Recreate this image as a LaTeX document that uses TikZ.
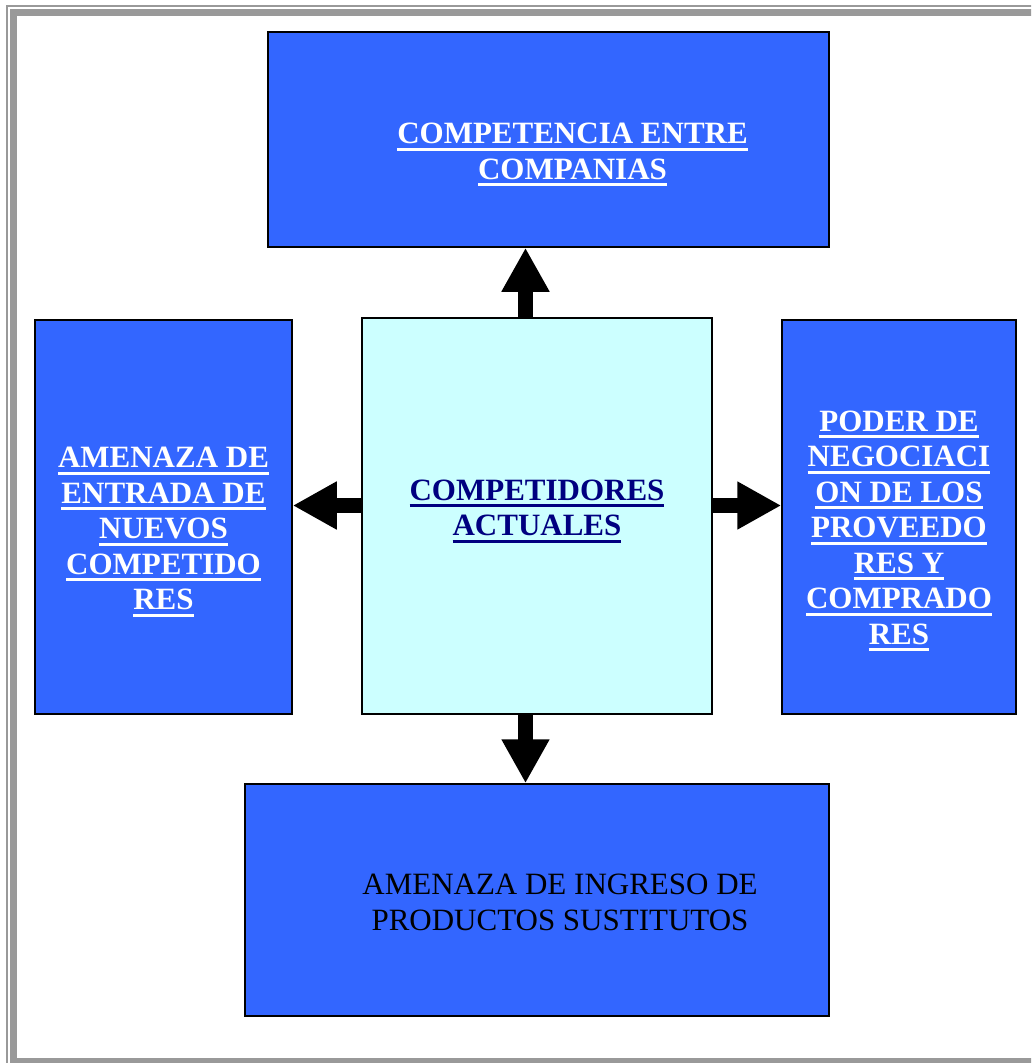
\documentclass[tikz,border=0pt]{standalone}
\usepackage{fontspec}
\setmainfont{Liberation Serif}
\usetikzlibrary{arrows.meta,calc}

\definecolor{boxblue}{HTML}{3366FF}
\definecolor{palecyan}{HTML}{CCFFFF}
\definecolor{framegray}{HTML}{999999}
\definecolor{navytext}{HTML}{000080}

% thick underline under one line of text
\newcommand{\ulword}[1]{\setbox0\hbox{#1}\rlap{\copy0}\raisebox{-7pt}{\rule{\wd0}{3pt}}}

\begin{document}
\begin{tikzpicture}[x=1pt, y=-1pt,
    forcebox/.style={draw=black, line width=1.5pt, fill=boxblue, inner sep=0pt},
    forcetext/.style={align=center, font=\fontsize{31}{35.5}\selectfont\bfseries, text=white},
    blockarrow/.style={line width=15pt, -{Triangle[length=44pt, width=45pt]}}]

    %% Five forces

    % Page and frame
    \useasboundingbox (0,0) rectangle (1031,1063);
    \clip (0,0) rectangle (1031,1063);
    \fill[white] (0,0) rectangle (1031,1063);
    \draw[framegray, line width=2pt] (7,6) rectangle (1045,1075);
    \draw[framegray, line width=7pt] (13.5,12.5) rectangle (1045,1061.5);

    % Boxes
    \node[forcebox, minimum width=561pt, minimum height=215pt] (rivalry) at (548.5,139.5) {};
    \node[forcebox, minimum width=257pt, minimum height=394pt] (entrants) at (163.5,517) {};
    \node[forcebox, fill=palecyan, minimum width=350pt, minimum height=396pt] (rivals) at (537,516) {};
    \node[forcebox, minimum width=234pt, minimum height=394pt] (bargain) at (899,517) {};
    \node[forcebox, minimum width=584pt, minimum height=232pt] (substitutes) at (537,900) {};

    % Texts
    \node[forcetext] (rivalrytext) at ($(rivalry)+(24,15)$)
        {\ulword{COMPETENCIA ENTRE}\\\ulword{COMPANIAS}};
    \node[forcetext, text=navytext] (rivalstext) at ($(rivals)+(0,-5)$)
        {\ulword{COMPETIDORES}\\\ulword{ACTUALES}};
    \node[forcetext] (entrantstext) at ($(entrants)+(0,15)$)
        {\ulword{AMENAZA DE}\\\ulword{ENTRADA DE}\\\ulword{NUEVOS}\\\ulword{COMPETIDO}\\\ulword{RES}};
    \node[forcetext] (bargaintext) at ($(bargain)+(0,14)$)
        {\ulword{PODER DE}\\\ulword{NEGOCIACI}\\\ulword{ON DE LOS}\\\ulword{PROVEEDO}\\\ulword{RES Y}\\\ulword{COMPRADO}\\\ulword{RES}};
    \node[forcetext, font=\fontsize{31}{35.5}\selectfont, text=black] (substitutestext) at ($(substitutes)+(23,2.5)$)
        {AMENAZA DE INGRESO DE\\PRODUCTOS SUSTITUTOS};

    % Arrows
    \coordinate (axis) at (525.5,505.5);
    \draw[blockarrow] (rivals.north -| axis) -- (rivalry.south -| axis);
    \draw[blockarrow] (rivals.south -| axis) -- (substitutes.north -| axis);
    \draw[blockarrow] (rivals.west |- axis) -- (entrants.east |- axis);
    \draw[blockarrow] (rivals.east |- axis) -- (bargain.west |- axis);

\end{tikzpicture}
\end{document}
